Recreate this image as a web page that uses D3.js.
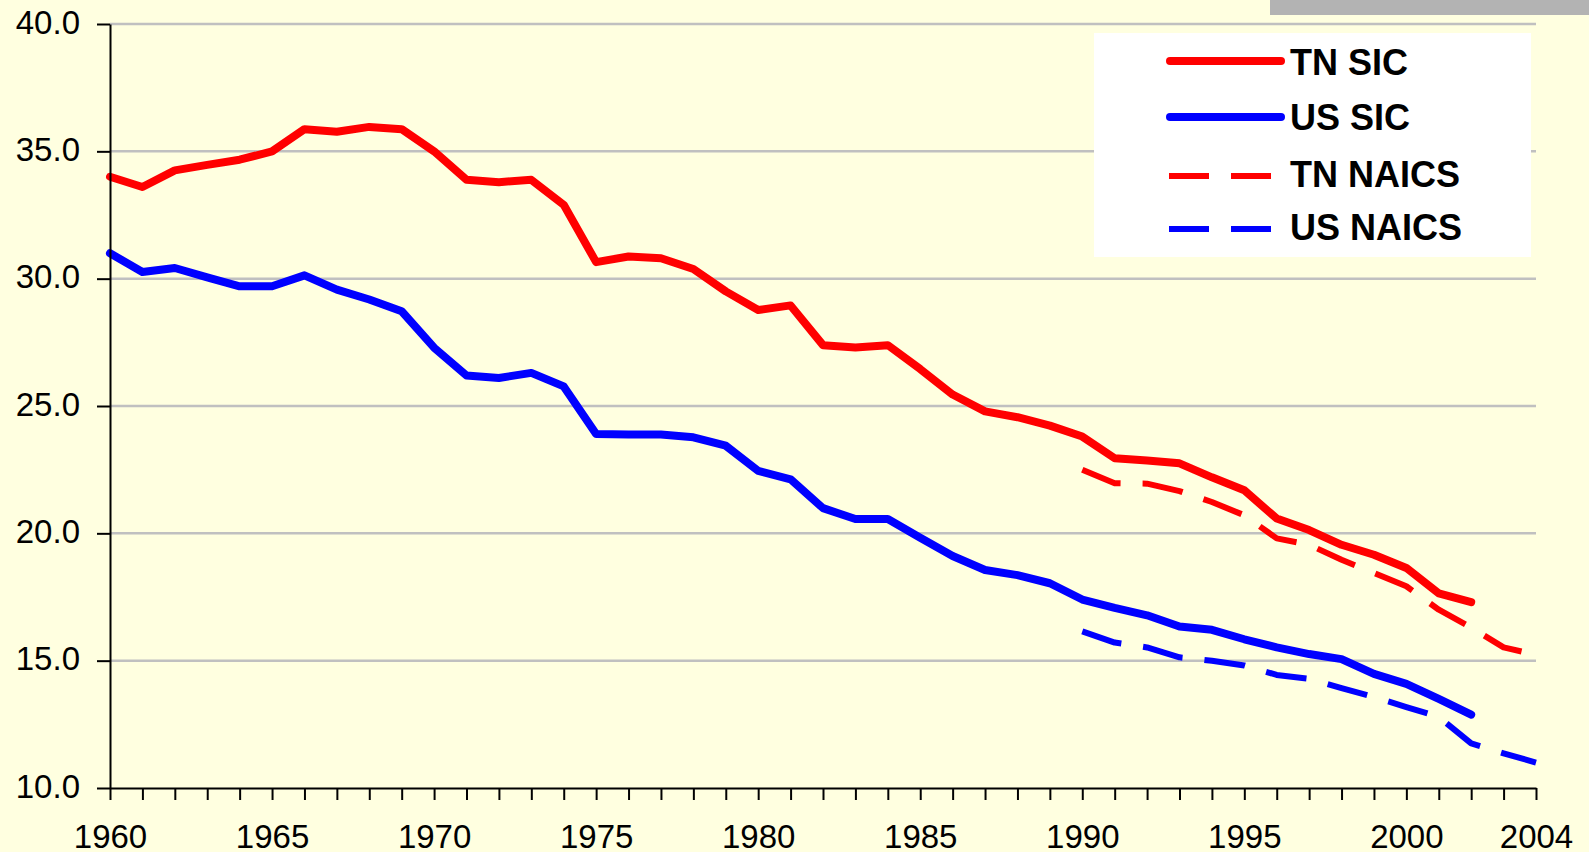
<!DOCTYPE html>
<html>
<head>
<meta charset="utf-8">
<script src="https://cdn.jsdelivr.net/npm/d3@7"></script>
<style>
  html, body { margin: 0; padding: 0; background: #FFFFE0; }
  svg { display: block; }
  text { font-family: "Liberation Sans", Arial, sans-serif; }
</style>
</head>
<body>
<svg id="chart" width="1589" height="852"></svg>
<script>
// ---- data ----
const sicYears = d3.range(1960, 2003);     // 1960..2002
const naicsYears = d3.range(1990, 2005);   // 1990..2004

const tnSIC = [34.0, 33.6, 34.25, 34.47, 34.67, 35.0, 35.87, 35.77, 35.96, 35.87,
               35.0, 33.88, 33.79, 33.88, 32.9, 30.65, 30.87, 30.8, 30.38, 29.5,
               28.77, 28.95, 27.39, 27.3, 27.39, 26.45, 25.45, 24.79, 24.56, 24.23,
               23.8, 22.95, 22.86, 22.75, 22.2, 21.69, 20.58, 20.13, 19.55, 19.16,
               18.64, 17.64, 17.3];
const usSIC = [31.0, 30.26, 30.42, 30.05, 29.7, 29.7, 30.13, 29.57, 29.18, 28.72,
               27.29, 26.2, 26.1, 26.3, 25.77, 23.9, 23.88, 23.88, 23.77, 23.44,
               22.45, 22.12, 20.99, 20.56, 20.56, 19.83, 19.11, 18.56, 18.36, 18.04,
               17.4, 17.07, 16.78, 16.34, 16.21, 15.84, 15.52, 15.26, 15.06, 14.48,
               14.09, 13.5, 12.88];
const tnNAICS = [22.5, 21.97, 21.95, 21.66, 21.23, 20.71, 19.8, 19.55, 18.96, 18.44,
                 17.92, 17.0, 16.3, 15.52, 15.23];
const usNAICS = [16.15, 15.71, 15.52, 15.13, 15.0, 14.81, 14.44, 14.29, 13.92, 13.57,
                 13.18, 12.79, 11.75, 11.36, 11.0];

const yTicks = [10, 15, 20, 25, 30, 35, 40];
const xLabelYears = [1960, 1965, 1970, 1975, 1980, 1985, 1990, 1995, 2000, 2004];
const legendNames = ["TN SIC", "US SIC", "TN NAICS", "US NAICS"];

// ---- drawing ----
const svg = d3.select("#chart");
const x = d3.scaleLinear().domain([1960, 2004]).range([110, 1536]);
const y = d3.scaleLinear().domain([10, 40]).range([788, 24]);

svg.append("rect").attr("width", 1589).attr("height", 852).attr("fill", "#FFFFE0");
// grey bar at top right
svg.append("rect").attr("x", 1270).attr("y", 0).attr("width", 319).attr("height", 15).attr("fill", "#B3B3B3");

// gridlines
svg.append("g").selectAll("line").data(yTicks.filter(d => d > 10)).join("line")
  .attr("x1", x(1960)).attr("x2", x(2004))
  .attr("y1", d => y(d)).attr("y2", d => y(d))
  .attr("stroke", "#C0C0C0").attr("stroke-width", 2.5);

const series = [
  { name: "TN SIC", years: sicYears, vals: tnSIC, color: "#FF0000", dash: null },
  { name: "US SIC", years: sicYears, vals: usSIC, color: "#0000FF", dash: null },
  { name: "TN NAICS", years: naicsYears, vals: tnNAICS, color: "#FF0000", dash: "41,22" },
  { name: "US NAICS", years: naicsYears, vals: usNAICS, color: "#0000FF", dash: "41,22" }
];

const line = d3.line().x(d => x(d[0])).y(d => y(d[1]));

// draw dashed first, then solid on top
[series[2], series[3], series[0], series[1]].forEach(s => {
  const pts = s.years.map((yr, i) => [yr, s.vals[i]]);
  svg.append("path").datum(pts)
    .attr("d", line)
    .attr("fill", "none")
    .attr("stroke", s.color)
    .attr("stroke-width", s.dash ? 6 : 8)
    .attr("stroke-linejoin", "round")
    .attr("stroke-linecap", s.dash ? "butt" : "round")
    .attr("stroke-dasharray", s.dash);
});

// y axis
const yAxis = d3.axisLeft(y).tickValues(yTicks).tickFormat(d3.format(".1f"))
  .tickSize(13).tickSizeOuter(0).tickPadding(17);
const gy = svg.append("g").attr("transform", `translate(${x(1960)},0)`).call(yAxis);
gy.select(".domain").attr("stroke", "#000").attr("stroke-width", 2);
gy.selectAll(".tick line").attr("stroke", "#000").attr("stroke-width", 2);
gy.selectAll(".tick text").attr("font-size", 33).attr("fill", "#000")
  .attr("font-family", "'Liberation Sans', Arial, sans-serif")
  .attr("dy", null).attr("y", 9);

// x axis
const xAxis = d3.axisBottom(x).tickValues(d3.range(1960, 2005))
  .tickFormat(d => xLabelYears.includes(d) ? String(d) : "")
  .tickSize(12).tickSizeOuter(0).tickPadding(10);
const gx = svg.append("g").attr("transform", `translate(0,${y(10)})`).call(xAxis);
gx.select(".domain").attr("stroke", "#000").attr("stroke-width", 2);
gx.selectAll(".tick line").attr("stroke", "#000").attr("stroke-width", 2);
gx.selectAll(".tick text").attr("font-size", 33).attr("fill", "#000")
  .attr("font-family", "'Liberation Sans', Arial, sans-serif")
  .attr("dy", null).attr("y", 60);

// legend
const lg = svg.append("g");
lg.append("rect").attr("x", 1094).attr("y", 33).attr("width", 437).attr("height", 224).attr("fill", "#FFFFFF");
const legRows = [61, 117, 176, 229];
const baselines = [75, 130, 187, 240];
series.forEach((s, i) => {
  if (s.dash) {
    lg.append("line").attr("x1", 1169).attr("x2", 1271)
      .attr("y1", legRows[i]).attr("y2", legRows[i])
      .attr("stroke", s.color).attr("stroke-width", 6).attr("stroke-dasharray", "40,22");
  } else {
    lg.append("line").attr("x1", 1170).attr("x2", 1281)
      .attr("y1", legRows[i]).attr("y2", legRows[i])
      .attr("stroke", s.color).attr("stroke-width", 8).attr("stroke-linecap", "round");
  }
  lg.append("text").attr("x", 1290).attr("y", baselines[i])
    .attr("font-size", 36).attr("font-weight", "bold").attr("fill", "#000")
    .text(legendNames[i]);
});
</script>
</body>
</html>
